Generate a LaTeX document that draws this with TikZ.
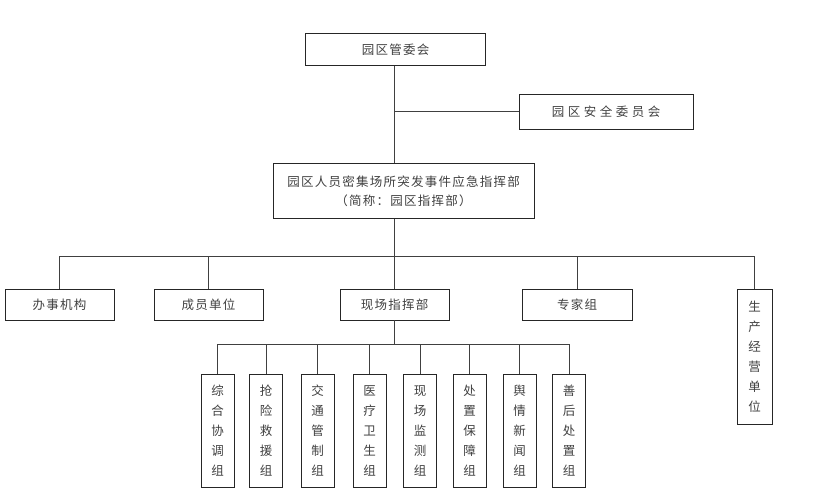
\documentclass[tikz,border=0pt]{standalone}
\usepackage{fontspec}
\newfontfamily\cjkfont{Noto Sans CJK SC}[LetterSpace=10]
\newfontfamily\cjkwidefont{Noto Sans CJK SC}[LetterSpace=28]
\newfontfamily\cjkvfont{Noto Sans CJK SC}
\usetikzlibrary{positioning}
\tikzset{unit/.style=
   {rectangle,
    draw=black!85,
    line width=0.8pt,
    text=black!75,
    text centered,
    inner sep=0pt,
    font={\cjkfont\fontsize{12.5}{16}\selectfont}}}
\tikzset{unit-vertical/.style =
   {rectangle,
    draw=black!85,
    line width=0.8pt,
    text=black!75,
    align=center,
    inner sep=0pt,
    minimum width=33pt,
    font={\cjkvfont\fontsize{12.5}{20}\selectfont}}}
\tikzset{link/.style = {draw=black!75, line width=0.8pt}}

\begin{document}
\begin{tikzpicture}[x=1pt,y=-1pt]
    \useasboundingbox (0,0) rectangle (837,498);

    \coordinate (trunk) at (394,0);
    \coordinate (bus)   at (0,256);
    \coordinate (subbus) at (0,344);

    \node [unit, minimum width=180pt, minimum height=32pt] (gwh) at (395.5,49.5) {园区管委会};
    \node [unit, minimum width=174pt, minimum height=35pt,
           font={\cjkwidefont\fontsize{12.5}{16}\selectfont}] (aqwyh) at (606,111.5) {园区安全委员会};
    \node [unit, minimum width=261pt, minimum height=55pt, align=center,
           font={\cjkfont\fontsize{12.5}{19}\selectfont}] (zhb) at (403.5,191)
    {园区人员密集场所突发事件应急指挥部\\（简称：园区指挥部）};

    \node [unit, minimum width=109pt, minimum height=31pt] (bsjg) at (59.5,304.5) {办事机构};
    \node [unit, minimum width=109pt, minimum height=31pt] (cydw) at (208.5,304.5) {成员单位};
    \node [unit, minimum width=109pt, minimum height=31pt] (xczhb) at (394.5,304.5) {现场指挥部};
    \node [unit, minimum width=110pt, minimum height=31pt] (zjz) at (577,304.5) {专家组};
    \node [unit-vertical, minimum width=35pt, minimum height=135pt] (scjydw) at (754.5,356.5)
    {生\\产\\经\\营\\单\\位};

    \foreach \name/\x/\txt in {zhxt/217.5/综\\合\\协\\调\\组,
                               qxjy/266/抢\\险\\救\\援\\组,
                               jtgz/317.5/交\\通\\管\\制\\组,
                               ylws/369.5/医\\疗\\卫\\生\\组,
                               xcjc/420/现\\场\\监\\测\\组,
                               czbz/469.5/处\\置\\保\\障\\组,
                               yqxw/519.5/舆\\情\\新\\闻\\组,
                               shcz/569/善\\后\\处\\置\\组}
        \node [unit-vertical, minimum height=113pt] (\name) at (\x,430.5) {\txt};

    % top trunk
    \path [link] (gwh.south -| trunk) -- (zhb.north -| trunk);
    \path [link] (aqwyh.west) -- (aqwyh.west -| trunk);

    % second level
    \path [link] (zhb.south -| trunk) -- (trunk |- bus);
    \path [link] (bsjg.north |- bus) -- (scjydw.north |- bus);
    \foreach \n in {bsjg,cydw,xczhb,zjz,scjydw}
        \path [link] (\n.north) -- (\n.north |- bus);

    % field groups
    \path [link] (xczhb.south) -- (xczhb.south |- subbus);
    \path [link] (zhxt.north |- subbus) -- (shcz.north |- subbus);
    \foreach \n in {zhxt,qxjy,jtgz,ylws,xcjc,czbz,yqxw,shcz}
        \path [link] (\n.north) -- (\n.north |- subbus);

\end{tikzpicture}
\end{document}
